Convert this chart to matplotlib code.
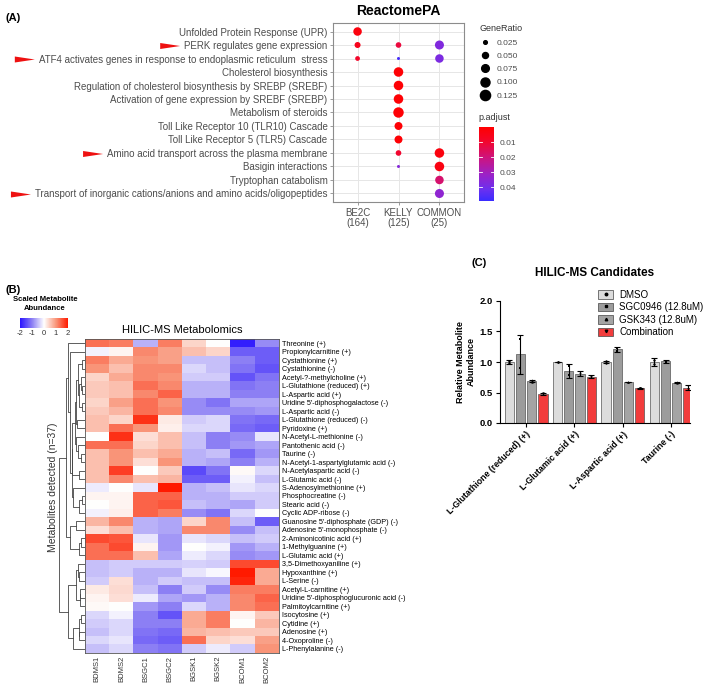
import numpy as np
import matplotlib
matplotlib.use("Agg")
import matplotlib.pyplot as plt
from matplotlib.colors import LinearSegmentedColormap, Normalize
from matplotlib.cm import ScalarMappable
from matplotlib.patches import Patch, Polygon
from matplotlib.lines import Line2D

plt.rcParams['font.family'] = ['Liberation Sans', 'DejaVu Sans']
plt.rcParams['axes.unicode_minus'] = False

# ---------------- panel A data (ReactomePA dot plot) ----------------
pathways = [
    'Unfolded Protein Response (UPR)',
    'PERK regulates gene expression',
    'ATF4 activates genes in response to endoplasmic reticulum  stress',
    'Cholesterol biosynthesis',
    'Regulation of cholesterol biosynthesis by SREBP (SREBF)',
    'Activation of gene expression by SREBF (SREBP)',
    'Metabolism of steroids',
    'Toll Like Receptor 10 (TLR10) Cascade',
    'Toll Like Receptor 5 (TLR5) Cascade',
    'Amino acid transport across the plasma membrane',
    'Basigin interactions',
    'Tryptophan catabolism',
    'Transport of inorganic cations/anions and amino acids/oligopeptides',
]
flagged = [False, True, True, False, False, False, False, False, False,
           True, False, False, True]
clusters = ['BE2C\n(164)', 'KELLY\n(125)', 'COMMON\n(25)']

dot_cluster = [0, 0, 0,
               1, 1, 1, 1, 1, 1, 1, 1, 1, 1,
               2, 2, 2, 2, 2, 2]
dot_pathway = [0, 1, 2,
               1, 2, 3, 4, 5, 6, 7, 8, 9, 10,
               1, 2, 9, 10, 11, 12]
gene_ratio = [0.09, 0.05, 0.035,
              0.045, 0.02, 0.11, 0.11, 0.11, 0.13, 0.08, 0.08, 0.045, 0.02,
              0.10, 0.09, 0.11, 0.11, 0.09, 0.10]
p_adjust = [0.003, 0.006, 0.009,
            0.012, 0.047, 0.001, 0.001, 0.001, 0.001, 0.001, 0.001, 0.010, 0.036,
            0.037, 0.038, 0.003, 0.004, 0.018, 0.034]
ratio_legend = [0.025, 0.050, 0.075, 0.100, 0.125]
padj_ticks = [0.01, 0.02, 0.03, 0.04]

# ---------------- panel B data (heatmap) ----------------
metabolites = [
    'Threonine (+)', 'Propionylcarnitine (+)', 'Cystathionine (+)', 'Cystathionine (-)',
    'Acetyl-?-methylcholine (+)', 'L-Glutathione (reduced) (+)', 'L-Aspartic acid (+)',
    "Uridine 5'-diphosphogalactose (-)", 'L-Aspartic acid (-)', 'L-Glutathione (reduced) (-)',
    'Pyridoxine (+)', 'N-Acetyl-L-methionine (-)', 'Pantothenic acid (-)', 'Taurine (-)',
    'N-Acetyl-1-aspartylglutamic acid (-)', 'N-Acetylaspartic acid (-)', 'L-Glutamic acid (-)',
    'S-Adenosylmethionine (+)', 'Phosphocreatine (-)', 'Stearic acid (-)', 'Cyclic ADP-ribose (-)',
    "Guanosine 5'-diphosphate (GDP) (-)", "Adenosine 5'-monophosphate (-)",
    '2-Aminonicotinic acid (+)', '1-Methylguanine (+)', 'L-Glutamic acid (+)',
    '3,5-Dimethoxyaniline (+)', 'Hypoxanthine (+)', 'L-Serine (-)', 'Acetyl-L-carnitine (+)',
    "Uridine 5'-diphosphoglucuronic acid (-)", 'Palmitoylcarnitine (+)', 'Isocytosine (+)',
    'Cytidine (+)', 'Adenosine (+)', '4-Oxoproline (-)', 'L-Phenylalanine (-)',
]
samples = ['BDMS1', 'BDMS2', 'BSGC1', 'BSGC2', 'BGSK1', 'BGSK2', 'BCOM1', 'BCOM2']
abundance = np.array([
    [1.3, 1.2, -0.6, 1.2, 0.4, 0.0, -1.9, -0.9],
    [-0.1, 0.1, 1.1, 0.9, 0.6, 0.4, -1.3, -1.3],
    [1.2, 0.8, 1.0, 0.9, -0.5, -0.5, -1.0, -1.3],
    [1.0, 0.6, 1.1, 1.1, -0.3, -0.5, -1.1, -1.4],
    [0.4, 0.8, 1.1, 1.0, -0.4, -0.4, -1.4, -1.1],
    [0.5, 0.6, 1.3, 1.1, -0.6, -0.6, -1.1, -1.0],
    [0.5, 0.6, 1.1, 1.4, -0.6, -0.6, -1.0, -1.0],
    [0.4, 0.9, 1.3, 1.0, -0.9, -1.1, -0.7, -0.7],
    [0.5, 0.7, 1.3, 1.1, -0.9, -0.9, -0.9, -0.8],
    [0.6, 0.4, 1.8, 0.2, -0.4, -0.3, -1.1, -1.2],
    [0.6, 1.3, 1.0, 0.15, -0.3, -0.3, -1.2, -1.3],
    [0.0, 1.8, 0.3, 0.6, -0.5, -1.0, -0.9, -0.2],
    [1.3, 1.3, 0.4, 0.6, -0.5, -1.0, -0.8, -0.7],
    [0.6, 1.0, 0.6, 0.8, -0.6, -0.5, -1.2, -0.8],
    [0.6, 1.0, 0.3, 1.0, -0.6, -0.7, -1.0, -0.6],
    [0.6, 1.7, 0.0, 0.5, -1.5, -1.1, 0.05, -0.3],
    [0.6, 1.1, 0.6, 0.7, -1.3, -1.3, -0.1, -0.5],
    [-0.15, 0.0, -0.2, 2.0, -0.6, -0.5, -0.2, -0.3],
    [0.1, 0.1, 1.4, 1.4, -0.6, -0.6, -0.4, -0.4],
    [0.0, 0.1, 1.4, 1.5, -0.5, -0.6, -0.7, -0.4],
    [-0.1, 0.15, 1.4, 1.2, -0.9, -1.1, -0.3, 0.0],
    [0.7, 1.1, -0.6, -0.7, 0.4, 1.1, -0.5, -1.3],
    [0.3, 0.6, -0.6, -0.7, 1.1, 1.1, -0.9, -0.5],
    [1.6, 1.5, -0.2, -0.8, -0.2, -0.3, -0.5, -0.4],
    [1.3, 1.6, 0.1, -0.8, 0.0, -0.1, -0.8, -0.6],
    [1.3, 1.3, 0.6, -0.7, -0.15, -0.3, -0.9, -0.8],
    [-0.5, -0.4, -0.4, -0.4, -0.35, -0.4, 1.6, 1.6],
    [-0.5, -0.4, -0.6, -0.6, -0.2, -0.05, 2.0, 0.8],
    [-0.4, 0.3, -0.6, -0.4, -0.5, -0.5, 1.9, 0.8],
    [0.2, 0.35, -0.5, -1.0, -0.4, -0.9, 1.2, 1.2],
    [0.1, 0.3, -0.15, -0.7, -0.8, -0.6, 1.1, 1.4],
    [0.05, 0.0, -0.8, -1.0, -0.3, -0.6, 1.1, 1.3],
    [-0.3, -0.1, -1.0, -1.4, 0.8, 1.2, 0.1, 0.5],
    [-0.4, -0.3, -1.0, -1.0, 0.8, 1.2, 0.0, 0.7],
    [-0.5, -0.3, -1.1, -1.2, 0.7, 0.6, 0.5, 0.5],
    [-0.3, -0.2, -1.2, -1.3, 1.3, 0.4, 0.3, 0.9],
    [-0.5, -0.3, -1.0, -1.1, -0.4, -0.15, -0.4, 1.0],
])
scale_ticks = [-2, -1, 0, 1, 2]

# ---------------- panel C data (bar chart) ----------------
candidates = ['L-Glutathione (reduced) (+)', 'L-Glutamic acid (+)',
              'L-Aspartic acid (+)', 'Taurine (-)']
treatments = ['DMSO', 'SGC0946 (12.8uM)', 'GSK343 (12.8uM)', 'Combination']
rel_mean = [[1.00, 1.00, 1.00, 1.00],
            [1.13, 0.85, 1.21, 1.01],
            [0.69, 0.81, 0.67, 0.66],
            [0.48, 0.76, 0.57, 0.58]]
rel_err = [[0.03, 0.004, 0.01, 0.07],
           [0.32, 0.11, 0.04, 0.02],
           [0.02, 0.04, 0.005, 0.01],
           [0.02, 0.02, 0.005, 0.04]]
rel_points = [[[0.98, 1.02], [1.0, 1.0], [0.99, 1.01], [0.96, 1.04]],
              [[1.37, 0.90], [0.78, 0.93], [1.18, 1.23], [1.00, 1.02]],
              [[0.68, 0.70], [0.79, 0.83], [0.67, 0.67], [0.66, 0.67]],
              [[0.47, 0.49], [0.75, 0.77], [0.57, 0.57], [0.56, 0.60]]]
bar_colors = ['#dcdcdc', '#9c9c9c', '#a4a4a4', '#f23c3c']
point_markers = ['o', 's', '^', 'v']

# ---------------- figure ----------------
W, H = 709, 687
fig = plt.figure(figsize=(W / 100, H / 100), dpi=100)


def rect(x0, y0, x1, y1):
    return [x0 / W, 1 - y1 / H, (x1 - x0) / W, (y1 - y0) / H]


def fpos(x, y):
    return x / W, 1 - y / H


# ===== Panel A =====
pcmap = LinearSegmentedColormap.from_list(
    'padj', [(0, '#ff0000'), (0.2, '#f2062e'), (0.42, '#cc1480'),
             (0.65, '#9a22c8'), (0.85, '#6a30f0'), (1, '#3a2cff')])
pnorm = Normalize(vmin=0.0, vmax=0.049)


def dot_size(r):
    return 470 * (r - 0.01)


axA = fig.add_axes(rect(333, 23, 464, 202))
axA.set_axisbelow(True)
axA.grid(True, color='#e6e6e6', lw=0.7)
axA.scatter(dot_cluster, dot_pathway, s=[dot_size(r) for r in gene_ratio],
            c=p_adjust, cmap=pcmap, norm=pnorm, linewidths=0, zorder=3)
axA.set_xlim(0.4 - 1, 3.6 - 1)
axA.set_ylim(len(pathways) - 1 + 0.63, -0.63)
axA.set_xticks(range(len(clusters)))
axA.set_xticklabels(clusters, fontsize=7, color='#4d4d4d', linespacing=1.0)
axA.set_yticks(range(len(pathways)))
axA.set_yticklabels(pathways, fontsize=7, color='#4d4d4d')
axA.tick_params(length=2.5, color='#8c8c8c', width=0.6, pad=1.5)
for sp in axA.spines.values():
    sp.set_color('#8c8c8c')
    sp.set_linewidth(0.8)
axA.set_title('ReactomePA', fontsize=10, fontweight='bold', pad=6)

size_handles = [Line2D([], [], ls='', marker='o', color='black',
                       markersize=np.sqrt(dot_size(r))) for r in ratio_legend]
legA = fig.legend(size_handles, ['%.3f' % r for r in ratio_legend],
                  title='GeneRatio', loc='upper left', bbox_to_anchor=fpos(472, 17),
                  frameon=False, fontsize=6, title_fontsize=6.5,
                  labelspacing=0.65, handlelength=1.4, handletextpad=0.6,
                  alignment='left')
for t in legA.get_texts():
    t.set_color('#4d4d4d')
legA.get_title().set_color('#333333')

fig.text(*fpos(478, 118), 'p.adjust', fontsize=6.5, color='#333333', va='center')
caxA = fig.add_axes(rect(479, 127, 494, 201))
cbA = fig.colorbar(ScalarMappable(norm=pnorm, cmap=pcmap), cax=caxA, ticks=padj_ticks)
caxA.invert_yaxis()
cbA.outline.set_visible(False)
caxA.tick_params(labelsize=6, length=0, labelcolor='#4d4d4d', pad=4)
for v in padj_ticks:
    caxA.plot([0.0, 0.2], [v, v], color='white', lw=0.6, transform=caxA.get_yaxis_transform())
    caxA.plot([0.8, 1.0], [v, v], color='white', lw=0.6, transform=caxA.get_yaxis_transform())

fig.text(*fpos(5, 18), '(A)', fontsize=8, fontweight='bold', va='center')

# ===== Panel B =====
hcmap = LinearSegmentedColormap.from_list(
    'hm', [(0, '#2a14ff'), (0.25, '#8c7ff4'), (0.5, '#ffffff'),
           (0.75, '#f9967a'), (1, '#ff1a00')])
axB = fig.add_axes(rect(85, 339, 279, 653))
axB.imshow(abundance, cmap=hcmap, vmin=-2, vmax=2, aspect='auto',
           interpolation='nearest')
axB.yaxis.tick_right()
axB.set_yticks(range(len(metabolites)))
axB.set_yticklabels(metabolites, fontsize=5.2)
axB.set_xticks(range(len(samples)))
axB.set_xticklabels(samples, fontsize=5.5, rotation=90, color='#333333')
axB.tick_params(length=0, pad=2)
for sp in axB.spines.values():
    sp.set_color('#555555')
    sp.set_linewidth(0.6)
axB.set_title('HILIC-MS Metabolomics', fontsize=8, pad=4)


def adjacent_linkage(data):
    groups = [{'rows': [i], 'pos': float(i), 'h': 0.0} for i in range(len(data))]
    links = []
    while len(groups) > 1:
        best = None
        for k in range(len(groups) - 1):
            a = data[groups[k]['rows']]
            b = data[groups[k + 1]['rows']]
            d = np.mean(np.sqrt(((a[:, None, :] - b[None, :, :]) ** 2).sum(-1)))
            if best is None or d < best[0]:
                best = (d, k)
        d, k = best
        a, b = groups[k], groups[k + 1]
        h = max(d, a['h'], b['h']) + 0.05
        links.append((a['pos'], a['h'], b['pos'], b['h'], h))
        groups[k:k + 2] = [{'rows': a['rows'] + b['rows'],
                            'pos': (a['pos'] + b['pos']) / 2, 'h': h}]
    return links


links = adjacent_linkage(abundance)
axD = fig.add_axes(rect(58, 339, 85, 653))
hmax = max(l[4] for l in links)
for pa, ha, pb, hb, h in links:
    axD.plot([ha, h, h, hb], [pa, pa, pb, pb], color='#444444', lw=0.6)
axD.set_xlim(hmax * 1.02, 0)
axD.set_ylim(len(metabolites) - 0.5, -0.5)
axD.axis('off')
fig.text(*fpos(53, 487), 'Metabolites detected (n=37)', rotation=90,
         fontsize=7.5, ha='center', va='center', color='#333333')

fig.text(*fpos(45, 304), 'Scaled Metabolite\nAbundance', fontsize=5.5,
         fontweight='bold', ha='center', va='center', linespacing=1.3)
caxB = fig.add_axes(rect(20, 318, 68, 328))
cbB = fig.colorbar(ScalarMappable(norm=Normalize(-2, 2), cmap=hcmap), cax=caxB,
                   orientation='horizontal', ticks=scale_ticks)
cbB.outline.set_visible(False)
caxB.tick_params(labelsize=5.5, length=0, pad=1.5, labelcolor='#333333')

fig.text(*fpos(5, 290), '(B)', fontsize=8, fontweight='bold', va='center')

# ===== Panel C =====
axC = fig.add_axes(rect(500, 301, 690, 423))
xg = np.arange(len(candidates))
bw = 0.19
for i, tr in enumerate(treatments):
    xs = xg + (i - 1.5) * 0.232
    axC.bar(xs, rel_mean[i], width=bw, color=bar_colors[i], edgecolor='#555555',
            linewidth=0.5, zorder=2)
    axC.errorbar(xs, rel_mean[i], yerr=rel_err[i], fmt='none', ecolor='black',
                 elinewidth=0.8, capsize=2, capthick=0.8, zorder=3)
    for j in range(len(candidates)):
        axC.scatter([xs[j]] * len(rel_points[i][j]), rel_points[i][j], s=3,
                    marker=point_markers[i], color='black', zorder=4, linewidths=0)
axC.set_xlim(-0.54, 3.39)
axC.set_ylim(0, 2.0)
axC.set_yticks([0, 0.5, 1.0, 1.5, 2.0])
axC.set_yticklabels(['%.1f' % v for v in [0, 0.5, 1.0, 1.5, 2.0]],
                    fontsize=6.8, fontweight='bold')
axC.set_xticks(xg)
axC.set_xticklabels(candidates, rotation=45, ha='right', rotation_mode='anchor',
                    fontsize=6.3, fontweight='bold')
axC.spines['top'].set_visible(False)
axC.spines['right'].set_visible(False)
axC.tick_params(length=3, width=0.8, pad=2)
axC.set_ylabel('Relative Metabolite\nAbundance', fontsize=6.5, fontweight='bold',
               labelpad=3)
axC.set_title('HILIC-MS Candidates', fontsize=8.5, fontweight='bold', pad=18)

legC_handles = [(Patch(facecolor=c, edgecolor='#444444', linewidth=0.5),
                 Line2D([], [], ls='', marker=m, markersize=1.8, color='black'))
                for c, m in zip(bar_colors, point_markers)]
fig.legend(legC_handles, treatments, loc='upper left', bbox_to_anchor=fpos(594, 286),
           frameon=False, fontsize=7, handlelength=1.6, handleheight=1.0,
           labelspacing=0.25, handletextpad=0.6, borderaxespad=0)

fig.text(*fpos(471, 263), '(C)', fontsize=8, fontweight='bold', va='center')

# red arrows marking the highlighted pathways
fig.canvas.draw()
renderer = fig.canvas.get_renderer()
inv = fig.transFigure.inverted()
for lbl, flag in zip(axA.get_yticklabels(), flagged):
    if not flag:
        continue
    bb = lbl.get_window_extent(renderer)
    xr = bb.x0 - 4
    yc = (bb.y0 + bb.y1) / 2
    pts = inv.transform([(xr - 20, yc + 3), (xr, yc), (xr - 20, yc - 3)])
    fig.add_artist(Polygon(pts, closed=True, facecolor='#ee1111',
                           edgecolor='none', transform=fig.transFigure))

fig.savefig('out.png', dpi=100)
